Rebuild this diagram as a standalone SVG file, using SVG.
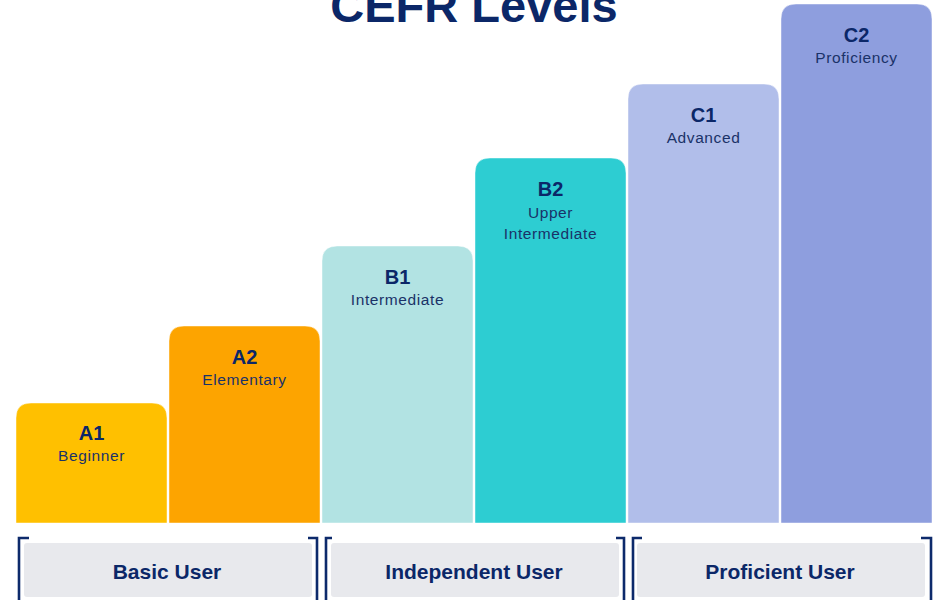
<svg xmlns="http://www.w3.org/2000/svg" width="933" height="600" viewBox="0 0 933 600">
<style>
.bar{stroke:#ffffff;stroke-opacity:0.45;stroke-width:1}
.code{font-family:"Liberation Sans",Arial,sans-serif;font-weight:bold;font-size:20px;fill:#0B2768;text-anchor:middle}
.sub{font-family:"Liberation Sans",Arial,sans-serif;font-size:15.5px;letter-spacing:0.6px;fill:#1A3268;text-anchor:middle}
.title{font-family:"Liberation Sans",Arial,sans-serif;font-weight:bold;font-size:47px;fill:#0B2768;text-anchor:middle}
.gbox{fill:#E8E9ED}
.glabel{font-family:"Liberation Sans",Arial,sans-serif;font-weight:bold;font-size:21px;fill:#0B2768;text-anchor:middle}
.brk{fill:none;stroke:#0D2A6B;stroke-width:2.6}
</style>
<rect width="933" height="600" fill="#ffffff"/>
<text class="title" x="474" y="22">CEFR Levels</text>

<g id="A1">
<path class="bar" fill="#FFC000" d="M16,523 V418 Q16,403 31,403 H152 Q167,403 167,418 V523 Z"/>
<text class="code" x="91.5" y="440">A1</text>
<text class="sub" x="91.5" y="461">Beginner</text>
</g>
<g id="A2">
<path class="bar" fill="#FDA400" d="M169,523 V341 Q169,326 184,326 H305 Q320,326 320,341 V523 Z"/>
<text class="code" x="244.5" y="364">A2</text>
<text class="sub" x="244.5" y="385">Elementary</text>
</g>
<g id="B1">
<path class="bar" fill="#B2E3E3" d="M322,523 V261 Q322,246 337,246 H458 Q473,246 473,261 V523 Z"/>
<text class="code" x="397.5" y="284">B1</text>
<text class="sub" x="397.5" y="305">Intermediate</text>
</g>
<g id="B2">
<path class="bar" fill="#2DCDD2" d="M475,523 V173 Q475,158 490,158 H611 Q626,158 626,173 V523 Z"/>
<text class="code" x="550.5" y="196">B2</text>
<text class="sub" x="550.5" y="218">Upper</text>
<text class="sub" x="550.5" y="239">Intermediate</text>
</g>
<g id="C1">
<path class="bar" fill="#B1BEEA" d="M628,523 V99 Q628,84 643,84 H764 Q779,84 779,99 V523 Z"/>
<text class="code" x="703.5" y="122">C1</text>
<text class="sub" x="703.5" y="143">Advanced</text>
</g>
<g id="C2">
<path class="bar" fill="#8E9EDE" d="M781,523 V19 Q781,4 796,4 H917 Q932,4 932,19 V523 Z"/>
<text class="code" x="856.5" y="42">C2</text>
<text class="sub" x="856.5" y="63">Proficiency</text>
</g>

<g id="connectors">
<path class="brk" d="M29,538 H19 V600"/>
<path class="brk" d="M308,538 H317 V600"/>
<path class="brk" d="M332,538 H326 V600"/>
<path class="brk" d="M616,538 H624 V600"/>
<path class="brk" d="M642,538 H633 V600"/>
<path class="brk" d="M921,538 H931 V600"/>
</g>

<g id="basic-user">
<rect class="gbox" x="24" y="543" width="288" height="54" rx="3"/>
<text class="glabel" x="167" y="579">Basic User</text>
</g>
<g id="independent-user">
<rect class="gbox" x="331" y="543" width="288" height="54" rx="3"/>
<text class="glabel" x="474" y="579">Independent User</text>
</g>
<g id="proficient-user">
<rect class="gbox" x="637" y="543" width="288" height="54" rx="3"/>
<text class="glabel" x="780" y="579">Proficient User</text>
</g>
</svg>
